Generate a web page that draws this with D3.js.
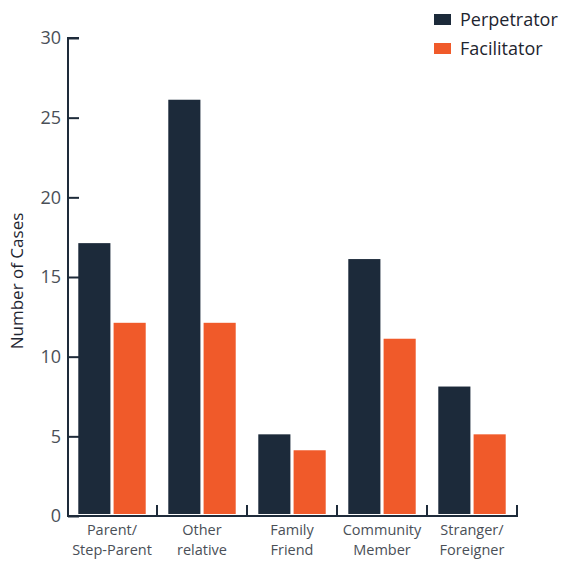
<!DOCTYPE html>
<html><head><meta charset="utf-8">
<script src="https://cdn.jsdelivr.net/npm/d3@7"></script>
<style>body{margin:0;background:#fff}svg{display:block}</style>
</head><body>
<svg id="c" width="563" height="562"></svg>
<script>
const categories = [["Parent/","Step-Parent"],["Other","relative"],["Family","Friend"],["Community","Member"],["Stranger/","Foreigner"]];
const perpetrator = [17, 26, 5, 16, 8];
const facilitator = [12, 12, 4, 11, 5];
const seriesNames = ["Perpetrator","Facilitator"];
const yTicks = [0,5,10,15,20,25,30];
const colors = ["#1c2a3a","#f05a2a"];

const svg = d3.select("#c");
const axisColor = "#1e2b3a", textColor = "#4a4f57";
const x0 = 67, x1 = 517, yTop = 38, yBot = 516;
const x = d3.scaleBand().domain(d3.range(categories.length)).range([x0, x1]).paddingInner(0).paddingOuter(0);
const xs = d3.scaleBand().domain([0,1]).range([0, x.bandwidth()]).paddingInner(0.09).paddingOuter(0.32);
const y = d3.scaleLinear().domain([0,30]).range([yBot, yTop]);

// bars
const bars = svg.append("g").attr("transform","translate(0,-2)");
[perpetrator, facilitator].forEach((vals, s) => {
  bars.selectAll(null).data(vals).enter().append("rect")
    .attr("x", (d,i) => x(i) + xs(s))
    .attr("width", xs.bandwidth())
    .attr("y", d => y(d))
    .attr("height", d => y(0) - y(d))
    .attr("fill", colors[s]);
});

// y axis
const ya = svg.append("g").attr("transform",`translate(${x0+1},0)`)
  .call(d3.axisRight(y).tickValues(yTicks).tickSize(11).tickFormat(""));
ya.select(".domain").attr("d", `M11,${yTop}H0V${yBot}`);
ya.selectAll("line,path").attr("stroke", axisColor).attr("stroke-width", 2);
svg.append("g").selectAll("text").data(yTicks).enter().append("text")
  .attr("x", 61).attr("y", d => y(d)).attr("dy","0.36em")
  .attr("text-anchor","end").attr("font-family","Open Sans, sans-serif")
  .attr("font-size", 18).attr("fill", textColor).text(d => d);

// x axis
const xa = svg.append("g").attr("transform",`translate(0,${yBot})`);
xa.append("line").attr("x1", x0).attr("x2", x1+1).attr("stroke", axisColor).attr("stroke-width",2);
xa.selectAll(".t").data(d3.range(categories.length)).enter().append("line")
  .attr("x1", i => x(i) + x.bandwidth()).attr("x2", i => x(i) + x.bandwidth())
  .attr("y1", 1).attr("y2", -11).attr("stroke", axisColor).attr("stroke-width",2);
const xl = svg.append("g").selectAll("text").data(categories).enter().append("text")
  .attr("text-anchor","middle").attr("font-family","Open Sans, sans-serif")
  .attr("font-size", 14.5).attr("fill", textColor);
xl.each(function(d,i){
  const t = d3.select(this);
  d.forEach((line,k) => t.append("tspan").attr("x", x(i)+x.bandwidth()/2).attr("y", 535 + k*20).text(line));
});

// y label
svg.append("text").attr("transform","translate(23,281) rotate(-90)")
  .attr("text-anchor","middle").attr("font-family","Open Sans, sans-serif")
  .attr("font-size", 17).attr("fill", "#1e2530").text("Number of Cases");

// legend
const lg = svg.append("g");
seriesNames.forEach((n,s) => {
  lg.append("rect").attr("x",434).attr("y",14 + s*29).attr("width",17).attr("height",11).attr("fill",colors[s]);
  lg.append("text").attr("x",460).attr("y",19.5 + s*29).attr("dy","0.36em")
    .attr("font-family","Open Sans, sans-serif").attr("font-size",18).attr("fill","#1e2530").text(n);
});
</script>
</body></html>
